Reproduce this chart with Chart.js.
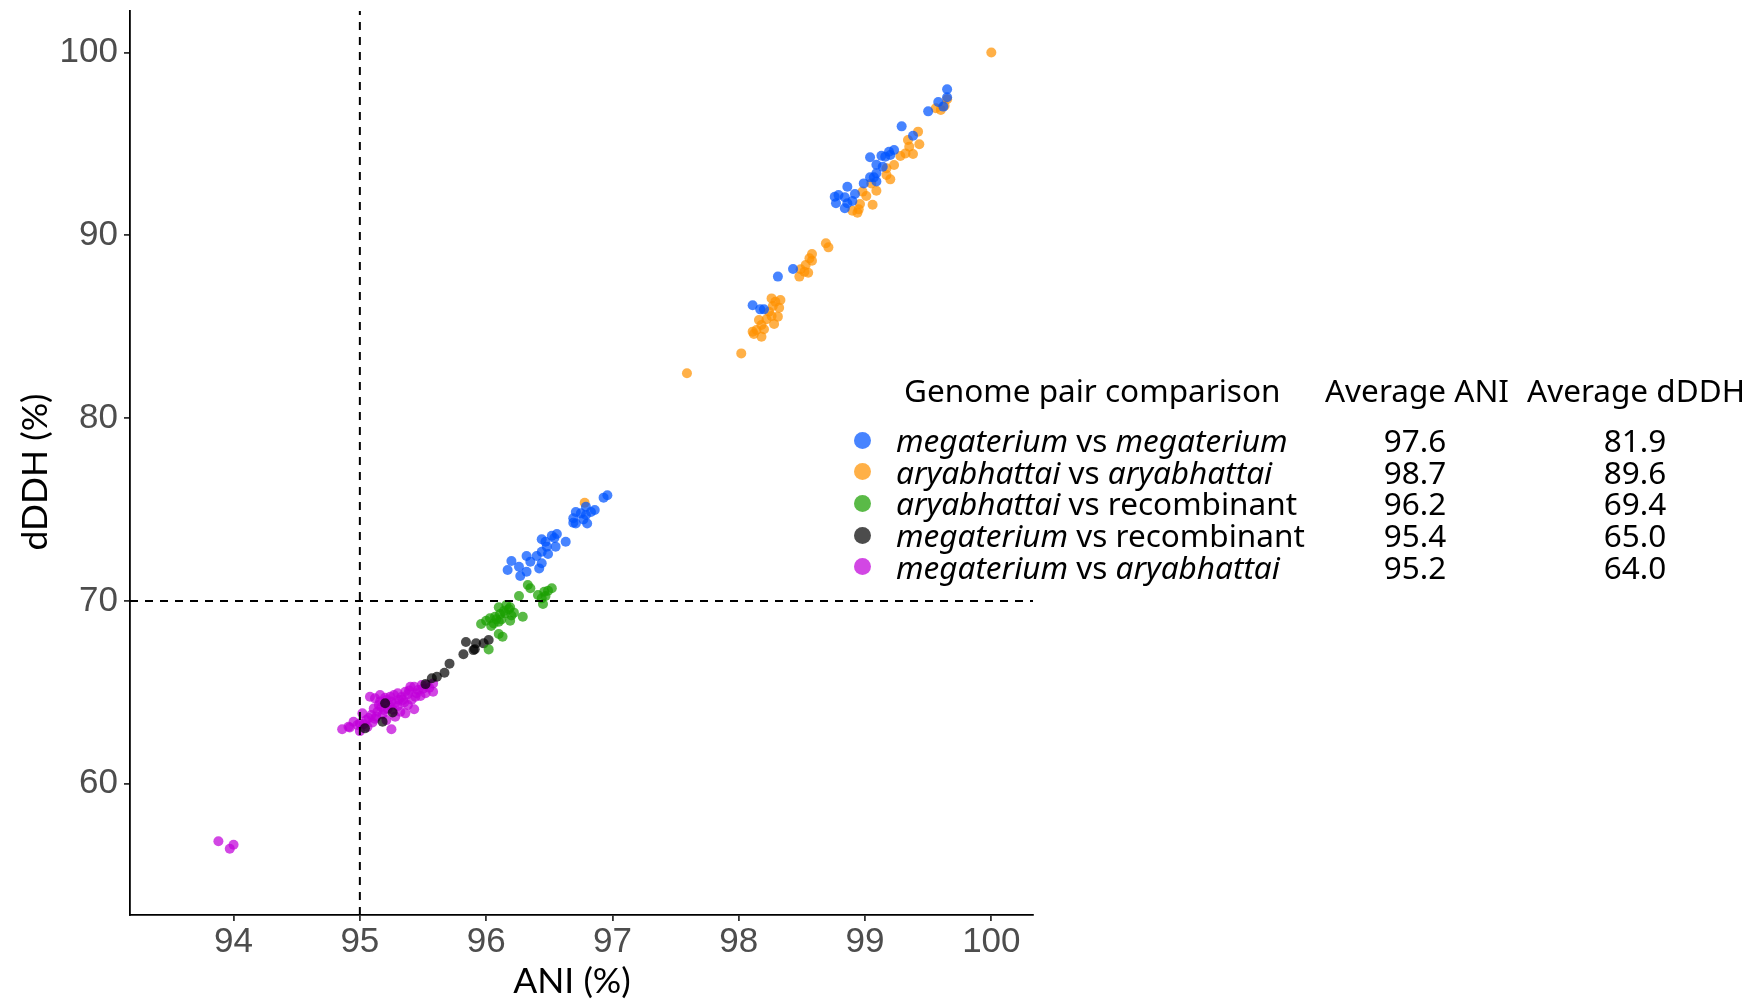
<!DOCTYPE html>
<html>
<head>
<meta charset="utf-8">
<title>ANI vs dDDH</title>
<script src="https://cdn.jsdelivr.net/npm/chart.js@4.4.1/dist/chart.umd.min.js"></script>
<style>
  html, body { margin: 0; padding: 0; background: #fff; }
  #wrap { position: relative; width: 1753px; height: 999px; overflow: hidden; }
  #scatter { position: absolute; left: 0; top: 0; }
  #legend { position: absolute; left: 0; top: 0; width: 1753px; height: 999px;
            font-family: "Noto Sans", sans-serif; font-size: 31.5px; color: #000; }
  #legend div { position: absolute; line-height: 32px; height: 32px; white-space: nowrap; }
  #legend .dot { width: 17px; height: 17px; border-radius: 50%; }
  #legend .num { transform: translateX(-50%); }
  .axtitle { position: absolute; font-family: Lato, sans-serif; font-size: 35.5px;
             line-height: 40px; white-space: nowrap; color: #000; }
  #xtitle { left: 572px; top: 980px; transform: translate(-50%, -50%); }
  #ytitle { left: 33.5px; top: 472px; transform: translate(-50%, -50%) rotate(-90deg); }
</style>
</head>
<body>
<div id="wrap">
  <canvas id="scatter" width="1753" height="999"></canvas>
  <div id="legend"></div>
  <div class="axtitle" id="xtitle"></div>
  <div class="axtitle" id="ytitle"></div>
</div>
<script>
// tick labels, axis titles and cut-off lines
const xTicks = [94, 95, 96, 97, 98, 99, 100];
const yTicks = [60, 70, 80, 90, 100];
const xTitle = "ANI (%)";
const yTitle = "dDDH (%)";
const aniCut = 95;
const dddhCut = 70;
const xRange = [93.18, 100.33];
const yRange = [52.82, 102.27];

// [ANI, dDDH] pairs
const megMeg = [
  [99.65, 97.99], [99.65, 97.55], [99.58, 97.29], [99.62, 97.04], [99.50, 96.78],
  [99.29, 95.96], [99.38, 95.45], [99.23, 94.67], [99.19, 94.57], [99.20, 94.39],
  [99.16, 94.30], [99.13, 94.35], [99.04, 94.27], [99.09, 93.86], [99.14, 93.75],
  [99.09, 93.39], [99.04, 93.17], [99.07, 93.17], [99.09, 92.95], [98.99, 92.84],
  [98.86, 92.66], [98.92, 92.26], [98.76, 92.11], [98.79, 92.20], [98.84, 92.08],
  [98.77, 91.75], [98.86, 91.75], [98.90, 91.88], [98.84, 91.48],
  [98.43, 88.16], [98.31, 87.74], [98.11, 86.17], [98.17, 85.95], [98.20, 85.95],
  [96.96, 75.78], [96.93, 75.65], [96.79, 75.15], [96.86, 74.97], [96.83, 74.86],
  [96.71, 74.86], [96.75, 74.79], [96.79, 74.70], [96.69, 74.52], [96.77, 74.46],
  [96.69, 74.28], [96.71, 74.24], [96.80, 74.24], [96.56, 73.66], [96.52, 73.57],
  [96.54, 73.44], [96.44, 73.37], [96.47, 73.24], [96.63, 73.24], [96.48, 72.97],
  [96.55, 72.97], [96.44, 72.69], [96.49, 72.57], [96.40, 72.46], [96.32, 72.46],
  [96.35, 72.15], [96.44, 72.06], [96.42, 71.78], [96.20, 72.18], [96.26, 71.87],
  [96.17, 71.69], [96.32, 71.60], [96.27, 71.36]
];
const aryAry = [
  [100.0, 100.0], [99.65, 97.44], [99.63, 97.09], [99.56, 96.95], [99.60, 96.86],
  [99.42, 95.67], [99.34, 95.21], [99.35, 94.85], [99.43, 94.98], [99.38, 94.45],
  [99.32, 94.48], [99.28, 94.34], [99.23, 93.85], [99.17, 93.67], [99.17, 93.30],
  [99.20, 93.06], [99.09, 92.44], [99.05, 92.84], [98.98, 92.39], [99.01, 92.15],
  [99.06, 91.67], [98.96, 91.71], [98.95, 91.42], [98.90, 91.34], [98.94, 91.24],
  [98.69, 89.57], [98.71, 89.34], [98.58, 88.98], [98.56, 88.74], [98.58, 88.61],
  [98.53, 88.38], [98.49, 88.14], [98.55, 87.95], [98.48, 87.74], [98.52, 88.01],
  [98.26, 86.55], [98.29, 86.37], [98.33, 86.46], [98.27, 86.13], [98.32, 86.04],
  [98.24, 85.82], [98.26, 85.58], [98.31, 85.55], [98.22, 85.41], [98.16, 85.37],
  [98.18, 85.09], [98.28, 85.15], [98.20, 84.86], [98.14, 84.82], [98.11, 84.73],
  [98.12, 84.60], [98.18, 84.45], [98.02, 83.54], [97.59, 82.45], [96.78, 75.37]
];
const aryRec = [
  [96.33, 70.87], [96.35, 70.69], [96.52, 70.69], [96.49, 70.56], [96.46, 70.50],
  [96.41, 70.32], [96.47, 70.27], [96.44, 70.14], [96.45, 69.83], [96.26, 70.27],
  [96.16, 69.78], [96.19, 69.65], [96.10, 69.65], [96.22, 69.36], [96.15, 69.32],
  [96.11, 69.28], [96.07, 69.13], [96.29, 69.13], [96.03, 69.05], [96.12, 68.99],
  [96.10, 68.86], [96.00, 68.92], [96.19, 68.92], [96.06, 68.77], [95.96, 68.74],
  [96.04, 68.63], [96.10, 68.19], [96.13, 68.04], [96.02, 67.35], [96.14, 69.45],
  [96.18, 69.55], [96.08, 69.00], [96.20, 69.20]
];
const megRec = [
  [96.02, 67.86], [95.98, 67.68], [95.92, 67.68], [95.84, 67.75], [95.90, 67.31],
  [95.91, 67.36], [95.82, 67.08], [95.71, 66.57], [95.67, 66.07], [95.61, 65.85],
  [95.57, 65.77], [95.52, 65.45], [95.26, 63.90], [95.18, 63.39], [95.04, 63.03],
  [95.20, 64.40]
];
const megAry = [
  [94.86, 62.98], [94.92, 63.08], [94.95, 63.39], [95.00, 62.88], [95.02, 63.85],
  [95.05, 63.48], [95.09, 63.76], [95.11, 64.12], [95.12, 64.67], [95.16, 64.85],
  [95.15, 64.31], [95.19, 64.03], [95.21, 64.58], [95.25, 62.98], [95.24, 64.76],
  [95.28, 64.40], [95.30, 64.95], [95.32, 63.94], [95.34, 64.58], [95.36, 65.03],
  [95.38, 64.31], [95.40, 65.31], [95.44, 64.76], [95.43, 64.07], [95.46, 65.13],
  [95.49, 65.40], [95.53, 65.40], [95.58, 65.03], [95.58, 65.49], [95.08, 64.76],
  [95.13, 63.67], [94.98, 63.21], [95.21, 63.48], [95.28, 63.67], [95.36, 63.85],
  [94.91, 63.12], [95.03, 63.25], [95.07, 63.60], [95.10, 63.35], [95.14, 63.95],
  [95.17, 64.20], [95.20, 64.70], [95.22, 64.10], [95.25, 64.50], [95.27, 64.85],
  [95.30, 64.25], [95.33, 64.75], [95.35, 64.45], [95.38, 64.90], [95.41, 64.60],
  [95.45, 64.95], [95.48, 64.80], [95.50, 65.20], [95.12, 63.55], [95.06, 63.10],
  [95.00, 63.30], [95.18, 63.80], [95.23, 64.30], [95.31, 64.60], [95.26, 64.05],
  [95.16, 64.50], [95.39, 65.10], [95.43, 65.30], [95.55, 65.25], [95.52, 64.95],
  [93.88, 56.85], [93.97, 56.44], [94.00, 56.66]
];

const pairNames = [
  [["megaterium", true], [" vs ", false], ["megaterium", true]],
  [["aryabhattai", true], [" vs ", false], ["aryabhattai", true]],
  [["aryabhattai", true], [" vs recombinant", false]],
  [["megaterium", true], [" vs recombinant", false]],
  [["megaterium", true], [" vs ", false], ["aryabhattai", true]]
];
const avgANI = ["97.6", "98.7", "96.2", "95.4", "95.2"];
const avgDDDH = ["81.9", "89.6", "69.4", "65.0", "64.0"];
const legendTitle = "Genome pair comparison";
const colHeads = ["Average ANI", "Average dDDH"];
const fills = [
  "rgba(0, 85, 255, 0.72)",
  "rgba(255, 145, 0, 0.72)",
  "rgba(26, 160, 0, 0.72)",
  "rgba(0, 0, 0, 0.70)",
  "rgba(192, 0, 218, 0.72)"
];

const groups = [megMeg, aryAry, aryRec, megRec, megAry];

const pointSets = groups.map((g, i) => ({
  type: "scatter",
  label: pairNames[i].map((p) => p[0]).join(""),
  data: g.map(([x, y]) => ({ x: x, y: y })),
  backgroundColor: fills[i],
  borderWidth: 0,
  pointRadius: 5,
  pointHoverRadius: 5,
  order: i + 1,
}));

function cutLine(points) {
  return {
    type: "line",
    data: points,
    borderColor: "#000",
    borderWidth: 2,
    borderDash: [8, 7],
    pointRadius: 0,
    fill: false,
    order: 0,
  };
}

const lineSets = [
  cutLine([{ x: aniCut, y: yRange[0] }, { x: aniCut, y: yRange[1] }]),
  cutLine([{ x: xRange[0], y: dddhCut }, { x: xRange[1], y: dddhCut }]),
];

const tickFont = { family: "'Liberation Sans', Arial, sans-serif", size: 35 };

new Chart(document.getElementById("scatter"), {
  type: "scatter",
  data: { datasets: [...lineSets, ...pointSets] },
  options: {
    responsive: false,
    animation: false,
    layout: { padding: { top: 11, right: 720, bottom: 0, left: 0 } },
    plugins: { legend: { display: false }, tooltip: { enabled: false } },
    scales: {
      x: {
        type: "linear",
        min: xRange[0],
        max: xRange[1],
        afterBuildTicks: (s) => { s.ticks = xTicks.map((v) => ({ value: v })); },
        afterFit: (s) => { s.height = 84; s.paddingLeft = 0; s.paddingRight = 0; },
        grid: { drawOnChartArea: false, drawTicks: true, tickLength: 6, color: "#333", lineWidth: 1.8 },
        border: { display: true, color: "#000", width: 1.8 },
        ticks: { color: "#4d4d4d", font: tickFont, padding: 0, maxRotation: 0, autoSkip: false },
      },
      y: {
        type: "linear",
        min: yRange[0],
        max: yRange[1],
        afterBuildTicks: (s) => { s.ticks = yTicks.map((v) => ({ value: v })); },
        afterFit: (s) => { s.width = 130; s.paddingTop = 0; s.paddingBottom = 0; },
        grid: { drawOnChartArea: false, drawTicks: true, tickLength: 6, color: "#333", lineWidth: 1.8 },
        border: { display: true, color: "#000", width: 1.8 },
        ticks: { color: "#4d4d4d", font: tickFont, padding: 6, autoSkip: false },
      },
    },
  },
});

document.getElementById("xtitle").textContent = xTitle;
document.getElementById("ytitle").textContent = yTitle;

// legend table, built as text next to the plot
const legend = document.getElementById("legend");
function place(el, left, centerY) {
  el.style.left = left + "px";
  el.style.top = centerY - 16 + "px";
  legend.appendChild(el);
  return el;
}
const head = document.createElement("div");
head.textContent = legendTitle;
place(head, 904, 389.5);
colHeads.forEach((t, i) => {
  const h = document.createElement("div");
  h.className = "num";
  h.textContent = t;
  place(h, [1417, 1636][i], 389.5);
});
pairNames.forEach((parts, i) => {
  const cy = 440 + i * 31.67;
  const dot = document.createElement("div");
  dot.className = "dot";
  dot.style.background = fills[i];
  dot.style.left = 862 - 8.5 + "px";
  dot.style.top = cy - 8.5 + "px";
  legend.appendChild(dot);
  const lab = document.createElement("div");
  parts.forEach(([txt, it]) => {
    const sp = document.createElement("span");
    sp.textContent = txt;
    if (it) sp.style.fontStyle = "italic";
    lab.appendChild(sp);
  });
  place(lab, 896, cy);
  const a = document.createElement("div");
  a.className = "num";
  a.textContent = avgANI[i];
  place(a, 1415, cy);
  const d = document.createElement("div");
  d.className = "num";
  d.textContent = avgDDDH[i];
  place(d, 1635, cy);
});
</script>
</body>
</html>
